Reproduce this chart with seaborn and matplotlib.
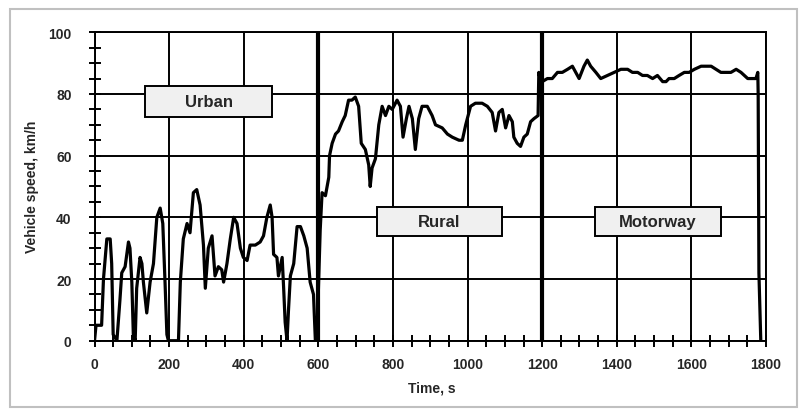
import matplotlib
matplotlib.use("Agg")
import matplotlib.pyplot as plt
from matplotlib.patches import Rectangle
from matplotlib.ticker import MultipleLocator
import seaborn as sns
import pandas as pd

# speed trace (time in s, speed in km/h)
time_s = [0, 4, 15, 19, 24, 33, 42, 46, 50, 60, 68, 73, 82, 91, 95, 100, 104, 109,
          113, 122, 127, 131, 140, 149, 158, 167, 176, 183, 189, 194, 198, 225, 230,
          238, 248, 256, 265, 274, 283, 292, 297, 305, 315, 323, 332, 341, 346, 355,
          364, 373, 382, 391, 399, 409, 417, 431, 444, 453, 462, 471, 476, 480, 489,
          493, 503, 507, 511, 516, 520, 525, 534, 543, 552, 561, 570, 578, 587, 592,
          596, 605, 610, 619, 628, 630, 637, 646, 654, 664, 672, 681, 690, 699, 708,
          715, 726, 735, 739, 744, 753, 762, 771, 780, 789, 798, 811, 820, 827, 836,
          843, 852, 860, 869, 878, 892, 905, 914, 932, 946, 959, 977, 986, 995, 1008,
          1021, 1039, 1053, 1066, 1075, 1084, 1093, 1102, 1111, 1120, 1124, 1133,
          1142, 1151, 1160, 1169, 1178, 1189, 1191, 1196, 1200, 1214, 1227, 1241,
          1254, 1268, 1281, 1290, 1299, 1312, 1321, 1330, 1344, 1357, 1375, 1393,
          1411, 1429, 1442, 1456, 1469, 1482, 1496, 1509, 1523, 1532, 1540, 1554,
          1567, 1581, 1594, 1608, 1626, 1639, 1653, 1666, 1679, 1693, 1706, 1720,
          1733, 1742, 1751, 1764, 1773, 1778, 1779, 1781, 1786]
speed_kmh = [0, 5, 5, 5, 20, 33, 33, 25, 2, 0, 13, 22, 24, 32, 30, 19, 2, 0,
             17, 27, 25, 19, 9, 19, 25, 40, 43, 38, 19, 2, 0, 0, 19,
             33, 38, 35, 48, 49, 44, 31, 17, 30, 34, 21, 24, 23, 19, 25,
             33, 40, 38, 30, 27, 26, 31, 31, 32, 34, 40, 44, 40, 28, 27,
             21, 27, 17, 6, 0, 10, 21, 25, 37, 37, 34, 30, 19, 15, 0,
             0, 36, 48, 47, 53, 60, 64, 67, 68, 71, 73, 78, 78, 79, 76,
             64, 62, 57, 50, 56, 59, 70, 76, 73, 76, 75, 78, 76, 66, 72,
             76, 72, 62, 72, 76, 76, 73, 70, 69, 67, 66, 65, 65, 70, 76,
             77, 77, 76, 74, 68, 74, 75, 69, 73, 71, 66, 64,
             63, 66, 67, 71, 72, 73, 87, 84, 84, 85, 85, 87,
             87, 88, 89, 87, 85, 89, 91, 89, 87, 85, 86, 87,
             88, 88, 87, 87, 86, 86, 85, 86, 84, 84, 85, 85,
             86, 87, 87, 88, 89, 89, 89, 88, 87, 87, 87, 88,
             87, 86, 85, 85, 85, 87, 80, 22, 0]

phase_names = ["Urban", "Rural", "Motorway"]
phase_bounds = [600, 1200]

# label box layout (data coords: x0, x1, y0, y1)
box_extents = [(136, 476, 72.4, 82.7), (756, 1092, 34.0, 43.4), (1341, 1679, 34.0, 43.4)]

df = pd.DataFrame({"Time": time_s, "Speed": speed_kmh})

sns.set_style("white")
plt.rcParams["font.family"] = ["Liberation Sans", "DejaVu Sans"]
plt.rcParams["font.weight"] = "bold"

fig, ax = plt.subplots(figsize=(7.99, 4.10), dpi=100)
fig.subplots_adjust(left=0.1183, right=0.9587, bottom=0.1666, top=0.9188)

sns.lineplot(data=df, x="Time", y="Speed", color="black", lw=2.3, ax=ax, zorder=3)

ax.set_xlim(0, 1800)
ax.set_ylim(0, 100)
ax.xaxis.set_major_locator(MultipleLocator(200))
ax.xaxis.set_minor_locator(MultipleLocator(50))
ax.yaxis.set_major_locator(MultipleLocator(20))
ax.yaxis.set_minor_locator(MultipleLocator(5))
ax.grid(True, which="major", color="black", lw=1.4, zorder=1)
ax.set_axisbelow(True)
for b in phase_bounds:
    ax.axvline(b, color="black", lw=3, zorder=2)

for s in ax.spines.values():
    s.set_color("black")
    s.set_linewidth(1.4)
ax.tick_params(which="both", bottom=True, left=True, top=False, right=False,
               direction="inout", length=9, width=1.4, color="black")
ax.tick_params(axis="x", which="major", pad=7, labelsize=10)
ax.tick_params(axis="y", which="major", pad=12, labelsize=10)
for lab in ax.get_xticklabels() + ax.get_yticklabels():
    lab.set_fontweight("bold")

ax.set_xlabel("Time, s", fontsize=10, fontweight="bold")
ax.set_ylabel("Vehicle speed, km/h", fontsize=10, fontweight="bold")
ax.xaxis.set_label_coords(0.5026, -0.13)
ax.yaxis.set_label_coords(-0.083, 0.5016)

for name, (x0, x1, y0, y1) in zip(phase_names, box_extents):
    ax.add_patch(Rectangle((x0, y0), x1 - x0, y1 - y0, facecolor="#f0f0f0",
                           edgecolor="black", lw=1.4, zorder=4))
    ax.text((x0 + x1) / 2, (y0 + y1) / 2, name, ha="center", va="center",
            fontsize=12, fontweight="bold", zorder=5)

fig.patches.append(Rectangle((10 / 799, 2 / 410), 787 / 799, 398 / 410,
                             transform=fig.transFigure, fill=False,
                             edgecolor="#c0c0c0", lw=1.5))

fig.savefig("out.png", dpi=100)
